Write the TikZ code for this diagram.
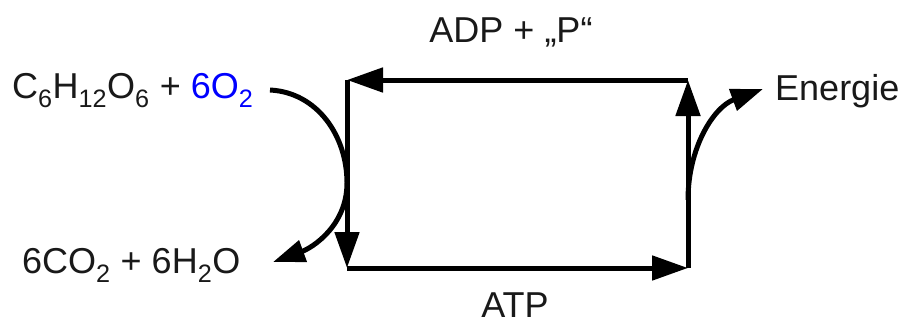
\documentclass[tikz,border=0pt]{standalone}
\usepackage{fontspec}
\setmainfont{Liberation Sans}
\usetikzlibrary{arrows.meta}
\begin{document}
\begin{tikzpicture}[x=1pt,y=1pt,
  lbl/.style={inner sep=0pt, font=\fontsize{36}{40}\selectfont, text=black!90},
  cyc/.style={line width=5pt, -{Triangle[length=36pt,width=24pt]}},
  curvearrow/.style={line width=5pt, -{Triangle[length=32pt,width=22pt]}}]
\useasboundingbox (0,0) rectangle (904,325);
\fill[white] (0,0) rectangle (904,325);
\coordinate (tl) at (347,245);
\coordinate (tr) at (688,245);
\coordinate (bl) at (347,57);
\coordinate (br) at (688,57);
\coordinate (cs) at (270,235);
\coordinate (cm) at (347,142);
\coordinate (ce) at (273,63);
\coordinate (es) at (688,125);
\coordinate (ee) at (763,236);
\node[lbl, anchor=base] (adp) at (511,283) {ADP + „P“};
\node[lbl, anchor=base] (atp) at (515,8) {ATP};
\node[lbl, anchor=base west] (glc) at (12,227) {C\textsubscript{6}H\textsubscript{12}O\textsubscript{6} + \textcolor{blue}{6O\textsubscript{2}}};
\node[lbl, anchor=base west] (co2) at (22,52) {6CO\textsubscript{2} + 6H\textsubscript{2}O};
\node[lbl, anchor=base west] (en) at (775,225) {Energie};
\draw[cyc] (tr) -- (tl);
\draw[cyc] (tl) -- (bl);
\draw[cyc] (bl) -- (br);
\draw[cyc] (br) -- (tr);
\draw[curvearrow] (cs) to[out=-3, in=90] (cm) to[out=-90, in=20] (ce);
\draw[curvearrow] (es) to[out=90, in=200] (ee);
\end{tikzpicture}
\end{document}
